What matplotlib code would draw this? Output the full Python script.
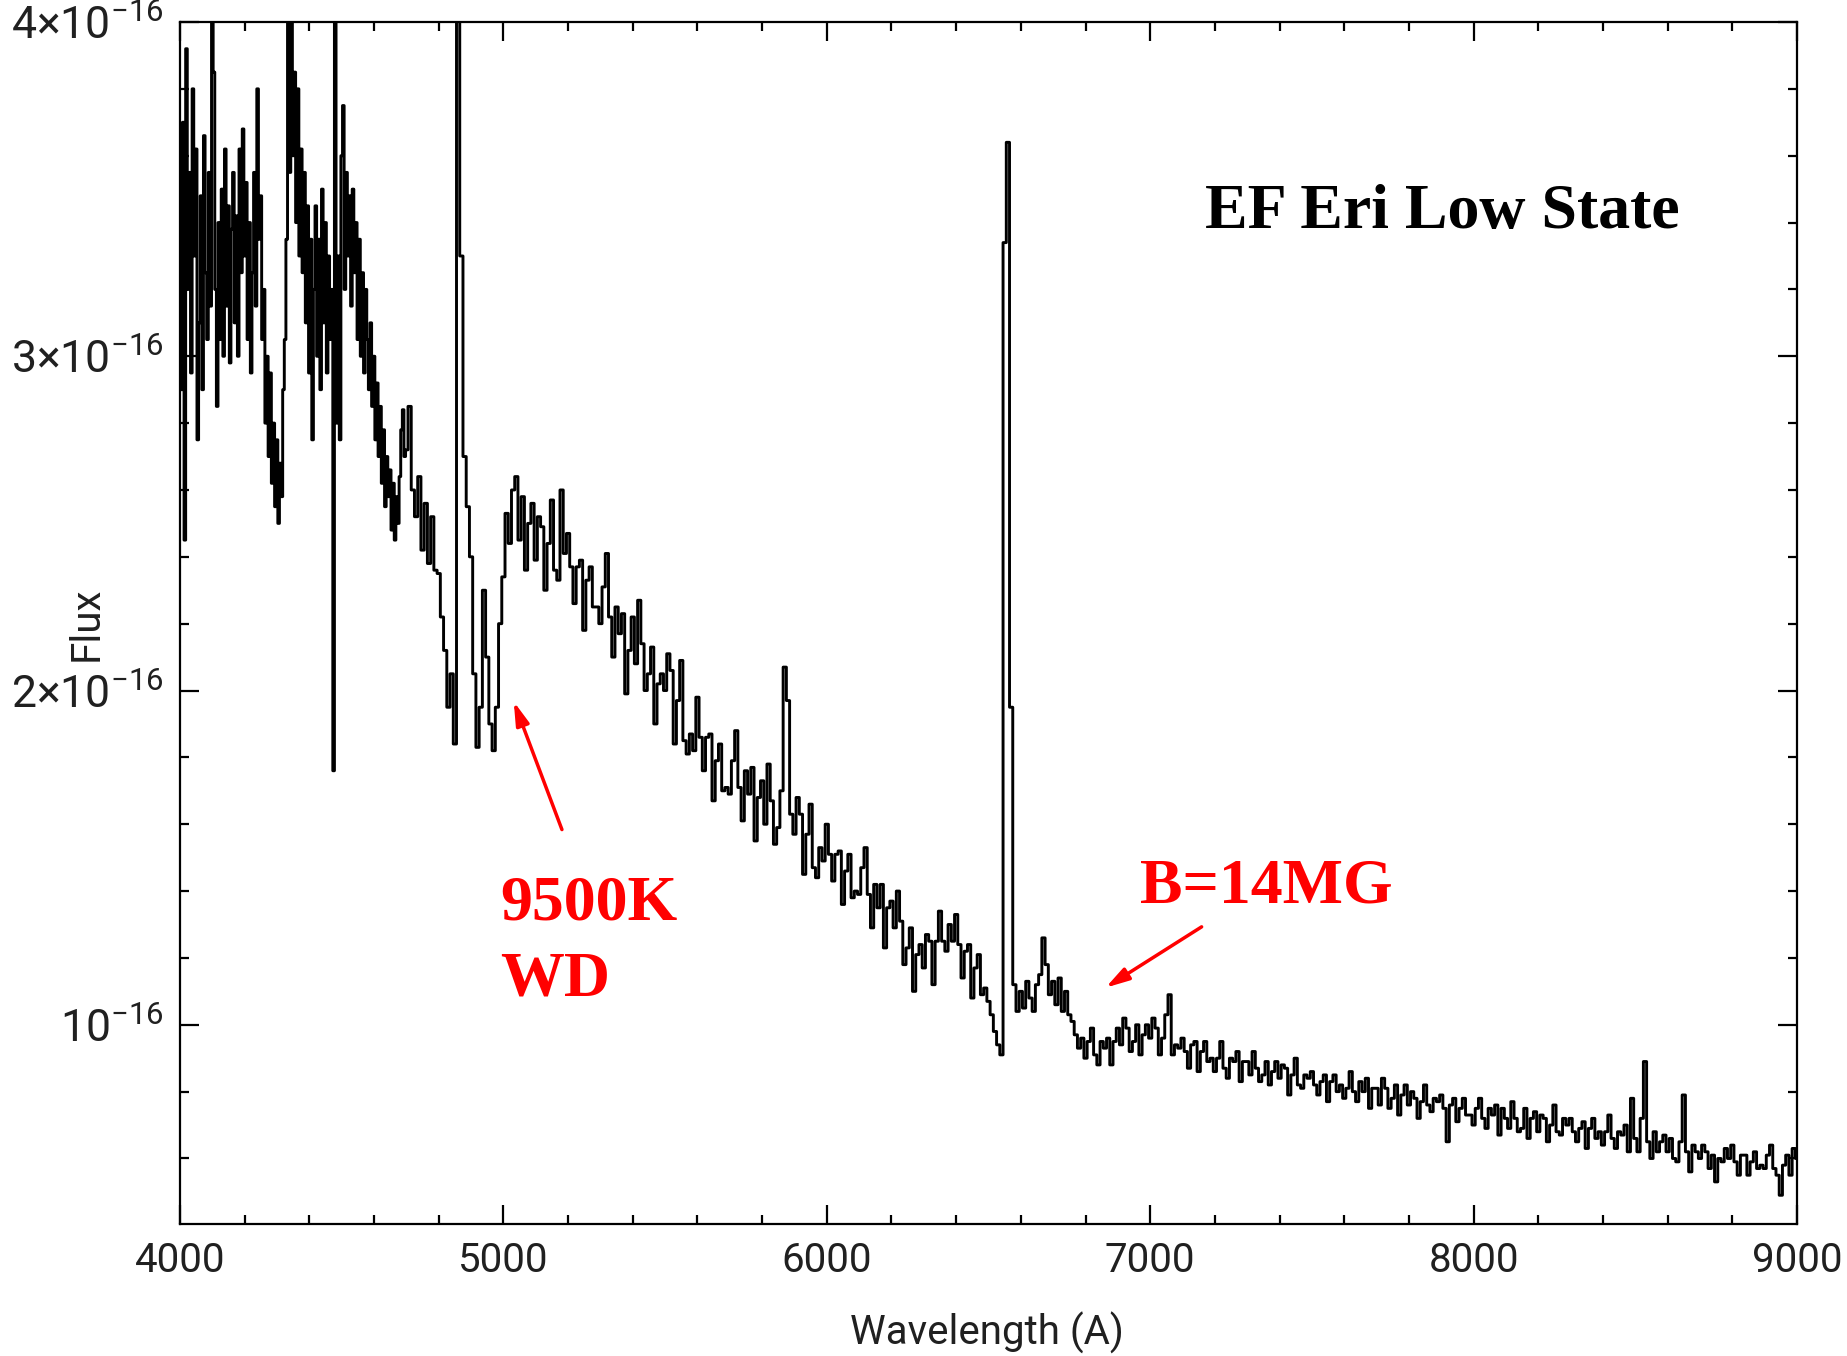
import numpy as np
import matplotlib
matplotlib.use("Agg")
import matplotlib.pyplot as plt
from matplotlib.ticker import MultipleLocator, FixedLocator, FixedFormatter

# Low-state optical spectrum, flux in units of 1e-16.
# Blue end is sampled every 5 A, the rest every 10 A.
wl_blue = np.arange(4000, 4700, 5)
wl_rest = np.arange(4700, 9001, 10)

flux_blue = [
    3.45, 2.90, 3.70, 2.45, 3.92, 3.20, 3.55, 2.95, 3.80, 3.30,   # 4000
    3.62, 2.75, 3.10, 3.48, 2.90, 3.66, 3.25, 3.05, 3.55, 3.15,   # 4050
    4.35, 3.85, 3.20, 2.85, 3.40, 3.05, 3.50, 3.00, 3.62, 3.15,   # 4100
    3.45, 2.98, 3.38, 3.55, 3.10, 3.42, 3.00, 3.62, 3.25, 3.68,   # 4150
    3.30, 3.52, 3.05, 3.40, 2.95, 3.25, 3.55, 3.15, 3.80, 3.35,   # 4200
    3.48, 3.05, 3.20, 2.80, 3.00, 2.70, 2.95, 2.62, 2.80, 2.55,   # 4250
    2.75, 2.50, 2.68, 2.58, 2.90, 3.05, 3.35, 4.40, 3.55, 4.40,   # 4300
    3.60, 3.85, 3.40, 3.80, 3.30, 3.62, 3.25, 3.55, 3.10, 3.45,   # 4350
    2.95, 3.35, 2.75, 3.20, 3.45, 3.00, 3.35, 2.90, 3.50, 3.10,   # 4400
    3.40, 2.95, 3.30, 3.05, 3.20, 1.76, 4.40, 2.80, 3.30, 2.75,   # 4450
    3.60, 3.75, 3.20, 3.55, 3.30, 3.48, 3.15, 3.50, 3.25, 3.40,   # 4500
    3.05, 3.35, 3.00, 3.25, 2.95, 3.20, 3.05, 2.90, 3.10, 2.85,   # 4550
    3.00, 2.75, 2.92, 2.70, 2.85, 2.62, 2.78, 2.55, 2.70, 2.58,   # 4600
    2.66, 2.48, 2.62, 2.45, 2.58, 2.50, 2.64, 2.78, 2.84, 2.70,   # 4650
]

flux_green = [
    2.72, 2.85, 2.60, 2.52, 2.64, 2.42, 2.56, 2.38, 2.52, 2.36,   # 4700
    2.35, 2.22, 2.12, 1.95, 2.05, 1.84, 4.40, 3.30, 2.70, 2.55,   # 4800
    2.40, 2.05, 1.83, 1.95, 2.30, 2.10, 1.90, 1.82, 1.95, 2.20,   # 4900
    2.34, 2.53, 2.44, 2.60, 2.64, 2.45, 2.58, 2.36, 2.50, 2.56,   # 5000
    2.39, 2.52, 2.49, 2.30, 2.44, 2.57, 2.36, 2.33, 2.60, 2.41,   # 5100
    2.47, 2.37, 2.26, 2.37, 2.39, 2.18, 2.33, 2.37, 2.25, 2.25,   # 5200
    2.20, 2.31, 2.41, 2.22, 2.10, 2.25, 2.17, 2.23, 1.99, 2.12,   # 5300
    2.22, 2.08, 2.27, 2.14, 2.00, 2.05, 2.13, 1.90, 2.02, 2.05,   # 5400
    2.00, 2.11, 2.06, 1.84, 1.97, 2.09, 1.85, 1.81, 1.87, 1.82,   # 5500
    1.98, 1.86, 1.76, 1.86, 1.87, 1.67, 1.79, 1.84, 1.70, 1.71,   # 5600
    1.69, 1.79, 1.88, 1.71, 1.61, 1.76, 1.69, 1.77, 1.55, 1.68,   # 5700
    1.73, 1.60, 1.78, 1.67, 1.54, 1.59, 1.70, 2.07, 1.97, 1.63,   # 5800
    1.57, 1.68, 1.63, 1.45, 1.57, 1.66, 1.47, 1.44, 1.53, 1.49,   # 5900
]

flux_red = [
    1.60, 1.51, 1.43, 1.51, 1.52, 1.36, 1.46, 1.51, 1.38, 1.40,   # 6000
    1.39, 1.47, 1.53, 1.39, 1.29, 1.42, 1.35, 1.42, 1.23, 1.35,   # 6100
    1.37, 1.29, 1.40, 1.31, 1.18, 1.23, 1.29, 1.10, 1.21, 1.24,   # 6200
    1.17, 1.27, 1.25, 1.12, 1.25, 1.34, 1.25, 1.22, 1.30, 1.25,   # 6300
    1.33, 1.24, 1.14, 1.22, 1.24, 1.08, 1.17, 1.21, 1.09, 1.11,   # 6400
    1.07, 1.03, 0.98, 0.94, 0.91, 3.34, 3.64, 1.95, 1.12, 1.04,   # 6500
    1.10, 1.05, 1.13, 1.08, 1.04, 1.12, 1.15, 1.26, 1.18, 1.09,   # 6600
    1.13, 1.06, 1.14, 1.04, 1.10, 1.03, 1.01, 0.97, 0.93, 0.96,   # 6700
    0.90, 0.95, 0.99, 0.91, 0.88, 0.95, 0.93, 0.96, 0.88, 0.95,   # 6800
    0.99, 0.94, 1.02, 0.99, 0.92, 0.95, 1.00, 0.91, 0.97, 1.00,   # 6900
    0.96, 1.02, 0.99, 0.91, 0.96, 1.03, 1.09, 0.91, 0.94, 0.93,   # 7000
    0.96, 0.92, 0.87, 0.94, 0.95, 0.86, 0.92, 0.95, 0.89, 0.90,   # 7100
    0.86, 0.90, 0.95, 0.87, 0.84, 0.90, 0.89, 0.92, 0.83, 0.89,   # 7200
    0.89, 0.85, 0.92, 0.87, 0.83, 0.85, 0.89, 0.82, 0.86, 0.89,   # 7300
    0.84, 0.88, 0.87, 0.79, 0.85, 0.90, 0.82, 0.81, 0.85, 0.84,   # 7400
    0.86, 0.82, 0.79, 0.83, 0.85, 0.77, 0.83, 0.85, 0.80, 0.82,   # 7500
    0.78, 0.81, 0.86, 0.80, 0.77, 0.83, 0.80, 0.84, 0.75, 0.81,   # 7600
    0.81, 0.76, 0.84, 0.81, 0.75, 0.78, 0.82, 0.73, 0.79, 0.82,   # 7700
    0.76, 0.80, 0.78, 0.72, 0.77, 0.82, 0.76, 0.74, 0.78, 0.77,   # 7800
    0.79, 0.75, 0.65, 0.76, 0.78, 0.71, 0.75, 0.78, 0.73, 0.73,   # 7900
]

flux_ir = [
    0.70, 0.75, 0.78, 0.72, 0.69, 0.75, 0.73, 0.76, 0.67, 0.75,   # 8000
    0.72, 0.69, 0.77, 0.72, 0.68, 0.69, 0.75, 0.66, 0.72, 0.74,   # 8100
    0.68, 0.73, 0.72, 0.65, 0.70, 0.76, 0.68, 0.67, 0.72, 0.70,   # 8200
    0.72, 0.68, 0.65, 0.69, 0.71, 0.63, 0.69, 0.72, 0.66, 0.68,   # 8300
    0.64, 0.68, 0.73, 0.66, 0.63, 0.68, 0.67, 0.70, 0.62, 0.78,   # 8400
    0.66, 0.62, 0.72, 0.89, 0.65, 0.60, 0.68, 0.62, 0.65, 0.67,   # 8500
    0.62, 0.66, 0.60, 0.59, 0.65, 0.79, 0.62, 0.56, 0.64, 0.62,   # 8600
    0.60, 0.64, 0.62, 0.57, 0.61, 0.53, 0.60, 0.59, 0.63, 0.60,   # 8700
    0.64, 0.59, 0.55, 0.61, 0.61, 0.55, 0.59, 0.62, 0.57, 0.58,   # 8800
    0.57, 0.61, 0.64, 0.57, 0.55, 0.49, 0.58, 0.61, 0.55, 0.63,   # 8900
    0.60,                                                         # 9000
]

wavelength = np.concatenate([wl_blue, wl_rest])
flux = np.array(flux_blue + flux_green + flux_red + flux_ir) * 1e-16

ytick_values = [1e-16, 2e-16, 3e-16, 4e-16]
ytick_labels = ["10$^{-16}$", "2\u00d710$^{-16}$", "3\u00d710$^{-16}$", "4\u00d710$^{-16}$"]

TICK_FONT = ["Roboto", "DejaVu Sans"]
SERIF = ["Liberation Serif", "DejaVu Serif"]
GREY = "#202020"

plt.rcParams["mathtext.fontset"] = "custom"
plt.rcParams["mathtext.rm"] = "Roboto"
plt.rcParams["mathtext.it"] = "Roboto"
plt.rcParams["mathtext.default"] = "regular"

fig = plt.figure(figsize=(18.47, 13.56), dpi=100)
ax = fig.add_axes([180 / 1847, 1 - 1224 / 1356, 1617 / 1847, 1202 / 1356])

ax.step(wavelength, flux, where="mid", color="black", lw=2.1)

ax.set_xlim(4000, 9000)
ax.set_ylim(0.404e-16, 4.0e-16)

ax.xaxis.set_major_locator(MultipleLocator(1000))
ax.xaxis.set_minor_locator(MultipleLocator(200))
ax.yaxis.set_major_locator(FixedLocator(ytick_values))
ax.yaxis.set_major_formatter(FixedFormatter(ytick_labels))
ax.yaxis.set_minor_locator(MultipleLocator(0.2e-16))

ax.tick_params(which="both", direction="in", top=True, right=True, width=1.6, colors="black")
ax.tick_params(which="major", length=13.5)
ax.tick_params(which="minor", length=6.5)
ax.tick_params(axis="x", pad=12, labelsize=29)
ax.tick_params(axis="y", pad=12, labelsize=32)
for lab in ax.get_xticklabels() + ax.get_yticklabels():
    lab.set_family(TICK_FONT)
    lab.set_color(GREY)
for sp in ax.spines.values():
    sp.set_linewidth(1.6)

fig.text(86 / 1847, 1 - 624 / 1356, "Flux", rotation=90, ha="center", va="center",
         fontsize=29, family=TICK_FONT, color=GREY)
fig.text(987 / 1847, 1 - 1333 / 1356, "Wavelength (A)", ha="center", va="center",
         fontsize=29, family=TICK_FONT, color=GREY)

# labels and arrows
ax.text(7168, 3.385e-16, "EF Eri Low State", fontsize=46, fontweight="bold",
        family=SERIF, color="black", ha="left", va="baseline")
ax.text(6968, 1.365e-16, "B=14MG", fontsize=46, fontweight="bold",
        family=SERIF, color="red", ha="left", va="baseline")
ax.text(4989, 1.314e-16, "9500K", fontsize=46, fontweight="bold",
        family=SERIF, color="red", ha="left", va="baseline")
ax.text(4989, 1.087e-16, "WD", fontsize=46, fontweight="bold",
        family=SERIF, color="red", ha="left", va="baseline")

arrow_style = dict(arrowstyle="-|>,head_length=1.4,head_width=0.4", color="red", lw=2.5,
                   shrinkA=0, shrinkB=0)
ax.annotate("", xy=(5032, 1.967e-16), xytext=(5181, 1.584e-16), arrowprops=arrow_style)
ax.annotate("", xy=(6862, 1.111e-16), xytext=(7159, 1.293e-16), arrowprops=arrow_style)

fig.savefig("out.png", dpi=100, facecolor="white")
